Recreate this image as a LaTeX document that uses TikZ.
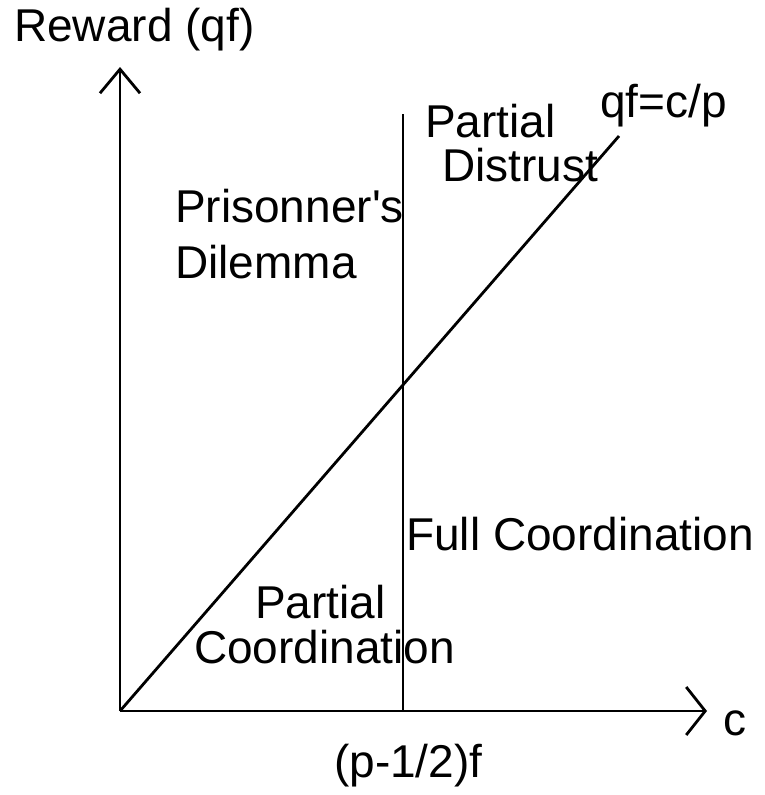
\documentclass[tikz,border=0pt]{standalone}
\usepackage{fontspec}
\setmainfont{Liberation Sans}
\usepackage{textcomp}
\usetikzlibrary{arrows.meta}
\tikzset{
  every node/.style={font=\fontsize{46}{55}\selectfont,inner sep=0,anchor=base west},
  axis/.style={line width=2.8pt,draw=black},
  ybarb/.style={-{Straight Barb[length=24pt,width=40pt,line width=2.8pt]}},
  xbarb/.style={-{Straight Barb[length=19pt,width=48pt,line width=2.8pt]}},
  rule/.style={line width=2.8pt,draw=black}
}
\begin{document}
\begin{tikzpicture}[x=1pt,y=-1pt]
\path[use as bounding box,fill=white] (0,0) rectangle (764,795);
\coordinate (origin) at (120,711);
\coordinate (ytip) at (120,67);
\coordinate (xtip) at (707,711);
\coordinate (thtop) at (403,114);
\coordinate (thbot) at (403,711);
\coordinate (diagend) at (619,136);
% axes
\draw[axis,ybarb] (origin) -- (ytip);
\draw[axis,xbarb] (origin) -- (xtip);
% threshold and boundary line
\draw[rule] (thtop) -- (thbot);
\draw[rule] (origin) -- (diagend);
% labels
\node (ylabel) at (14,41) {Reward (qf)};
\node (xlabel) at (723,735) {c};
\node (thlabel) at (334,777) {(p-1/2)f};
\node (linelabel) at (600,117) {qf=c/p};
\node (pd1) at (425,137) {Partial};
\node (pd2) at (442,181) {Distrust};
\node (pris1) at (175,222) {Prisonner\textquotesingle s};
\node (pris2) at (175,278) {Dilemma};
\node (full) at (406,550) {Full Coordination};
\node (pc1) at (255,618) {Partial};
\node (pc2) at (194,663) {Coordination};
\end{tikzpicture}
\end{document}
